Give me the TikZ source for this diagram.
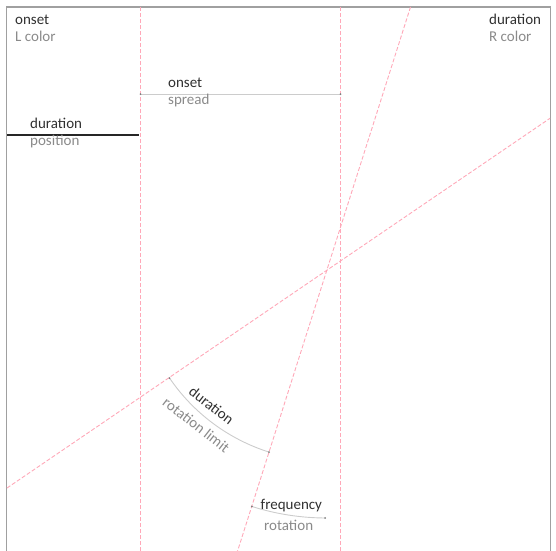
\documentclass[tikz,border=0pt]{standalone}
\usepackage{fontspec}
\setmainfont{Carlito}
\definecolor{darktext}{HTML}{303030}
\definecolor{midtext}{HTML}{8A8A8A}
\definecolor{framegray}{HTML}{A0A0A0}
\definecolor{guidepink}{HTML}{FFA8B8}
\definecolor{measuregray}{HTML}{CCCCCC}
\definecolor{dotgray}{HTML}{808080}
\begin{document}
\begin{tikzpicture}[x=1pt,y=-1pt,
  lbl/.style={font=\fontsize{15}{18}\selectfont, text=darktext, inner sep=0pt, anchor=base west},
  sub/.style={lbl, text=midtext},
  rlbl/.style={font=\fontsize{15}{18}\selectfont, inner sep=0pt, anchor=center, rotate=-38},
  guide/.style={draw=guidepink, line width=0.9pt, dash pattern=on 4pt off 2pt},
  measure/.style={draw=measuregray, line width=0.9pt},
  enddot/.style={fill=dotgray, circle, inner sep=0pt, minimum size=2pt}
]
\useasboundingbox (0,0) rectangle (556,550);
\clip (0,0) rectangle (556,550);

% frame
\draw[framegray, line width=1.3pt] (6.5,552) -- (6.5,7) -- (550.5,7) -- (550.5,552);

% guide lines
\coordinate (C) at (326.5,271);
\draw[guide] (140.5,7) -- (140.5,552);
\draw[guide] (340.5,7) -- (340.5,552);
\draw[guide] (410.5,7) -- (235.5,557.5);
\draw[guide] (7,488) -- (550,118.3);

% spread measure
\coordinate (s1) at (140.5,94);
\coordinate (s2) at (340.5,94);
\draw[measure] (s1) -- (s2);
\node[enddot] at (s1) {};
\node[enddot] at (s2) {};

% position line
\draw[black!85, line width=1.3pt] (7,135) -- (139,135);

% rotation limit arc
\path (C) ++(145.7:190) coordinate (a1);
\path (C) ++(107.6:190) coordinate (a2);
\draw[measure] (a1) arc[start angle=145.7, end angle=107.6, radius=190];
\node[enddot] at (a1) {};
\node[enddot] at (a2) {};

% rotation arc
\path (C) ++(107.6:247) coordinate (b1);
\path (C) ++(90.3:247) coordinate (b2);
\draw[measure] (b1) arc[start angle=107.6, end angle=90.3, radius=247];
\node[enddot] at (b1) {};
\node[enddot] at (b2) {};

% labels
\node[lbl] (lon) at (15,24.5) {onset};
\node[sub] (lcol) at (15,41.5) {L color};
\node[lbl] (rdur) at (489,24.5) {duration};
\node[sub] (rcol) at (489,41.5) {R color};
\node[lbl] (son) at (168,87.5) {onset};
\node[sub] (ssp) at (168,104) {spread};
\node[lbl] (pdur) at (30,128.5) {duration};
\node[sub] (ppos) at (30,145) {position};
\node[lbl] (freq) at (260.5,509.5) {frequency};
\node[sub] (rot) at (264,530.5) {rotation};
\node[rlbl, text=darktext] (rdur2) at (211.5,405.5) {duration};
\node[rlbl, text=midtext] (rlim) at (196.3,425) {rotation limit};
\end{tikzpicture}
\end{document}
